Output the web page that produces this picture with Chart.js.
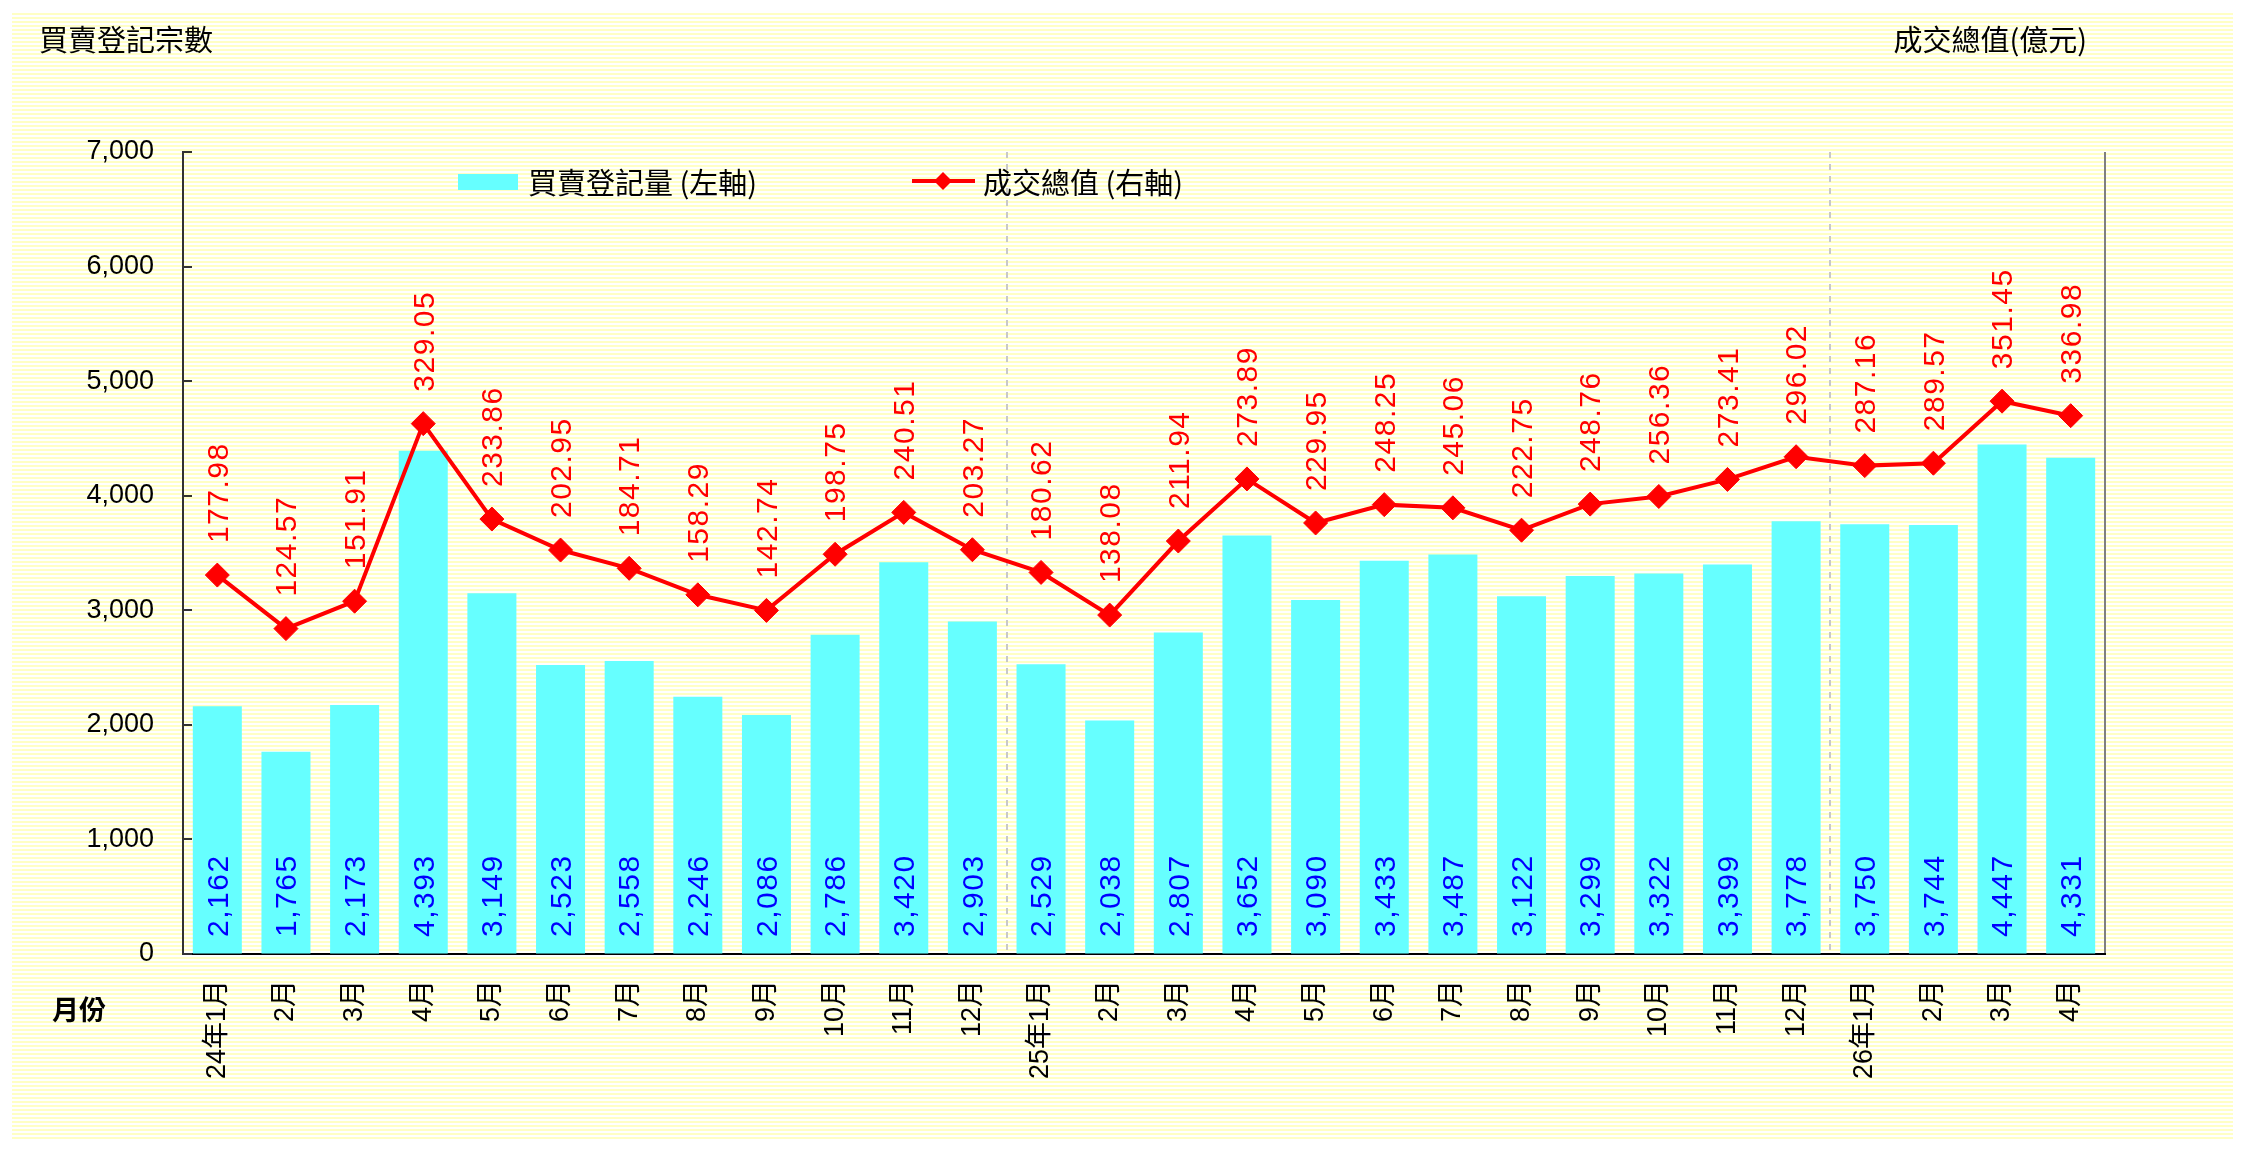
<!DOCTYPE html>
<html lang="zh-Hant">
<head>
<meta charset="utf-8">
<title>買賣登記宗數及成交總值</title>
<script src="https://cdn.jsdelivr.net/npm/chart.js@4.4.1/dist/chart.umd.min.js"></script>
<style>
    html, body { margin: 0; padding: 0; background: #fff; }
    #wrap { width: 2242px; height: 1153px; }
</style>
</head>
<body>
<div id="wrap"><canvas id="deals" width="2242" height="1153"></canvas></div>
<script>
// months, 24年1月 -> 26年4月
const months = [
    '24年1月', '2月', '3月', '4月', '5月', '6月', '7月', '8月', '9月', '10月', '11月', '12月',
    '25年1月', '2月', '3月', '4月', '5月', '6月', '7月', '8月', '9月', '10月', '11月', '12月',
    '26年1月', '2月', '3月', '4月'
];

// 買賣登記量 (left axis)
const dealCount = [
    2162, 1765, 2173, 4393, 3149, 2523, 2558, 2246, 2086, 2786, 3420, 2903,
    2529, 2038, 2807, 3652, 3090, 3433, 3487, 3122, 3299, 3322, 3399, 3778,
    3750, 3744, 4447, 4331
];

// 成交總值, 億元 (right axis)
const dealValue = [
    177.98, 124.57, 151.91, 329.05, 233.86, 202.95, 184.71, 158.29, 142.74, 198.75, 240.51, 203.27,
    180.62, 138.08, 211.94, 273.89, 229.95, 248.25, 245.06, 222.75, 248.76, 256.36, 273.41, 296.02,
    287.16, 289.57, 351.45, 336.98
];

const countLabel = '買賣登記量 (左軸)';
const valueLabel = '成交總值 (右軸)';

const cyan = '#66FFFF';
const red = '#FF0000';
const cjk = '"Noto Sans CJK TC", sans-serif';
const num = '"Liberation Sans", Arial, "Noto Sans CJK TC", sans-serif';

//! striped paper background + titles + legend
const paper = {
    id: 'paper',
    beforeDraw(chart) {
        const ctx = chart.ctx;
        ctx.save();
        ctx.fillStyle = '#FFFFFF';
        ctx.fillRect(12, 13, 2221, 1125);
        ctx.fillStyle = '#FFFFC4';
        for (let y = 13; y < 1138; y += 4) {
            ctx.fillRect(12, y, 2221, 2);
        }

        ctx.fillStyle = '#000';
        ctx.textBaseline = 'middle';
        ctx.font = '29px ' + cjk;
        ctx.textAlign = 'left';
        ctx.fillText('買賣登記宗數', 39, 40);
        ctx.textAlign = 'right';
        ctx.fillText('成交總值(億元)', 2087, 40);
        ctx.textAlign = 'left';
        ctx.font = 'bold 27px ' + cjk;
        ctx.fillText('月份', 52, 1010);

        // year separators
        const x = chart.scales.x;
        const area = chart.chartArea;
        ctx.strokeStyle = '#C8C8C8';
        ctx.lineWidth = 2;
        ctx.setLineDash([6, 6]);
        months.forEach((m, i) => {
            if (i === 0 || m.indexOf('年') < 0) return;
            const px = Math.round((x.getPixelForValue(i - 1) + x.getPixelForValue(i)) / 2);
            ctx.beginPath();
            ctx.moveTo(px, area.top);
            ctx.lineTo(px, area.bottom);
            ctx.stroke();
        });
        ctx.setLineDash([]);

        // right frame line
        ctx.strokeStyle = '#808080';
        ctx.beginPath();
        ctx.moveTo(area.right, area.top);
        ctx.lineTo(area.right, area.bottom);
        ctx.stroke();

        // legend
        ctx.fillStyle = cyan;
        ctx.fillRect(458, 174, 60, 16);
        ctx.fillStyle = '#000';
        ctx.font = '29px ' + cjk;
        ctx.fillText(countLabel, 528, 183);

        ctx.strokeStyle = red;
        ctx.lineWidth = 4;
        ctx.beginPath();
        ctx.moveTo(912, 181);
        ctx.lineTo(975, 181);
        ctx.stroke();
        ctx.fillStyle = red;
        ctx.beginPath();
        ctx.moveTo(934, 181);
        ctx.lineTo(943, 172);
        ctx.lineTo(952, 181);
        ctx.lineTo(943, 190);
        ctx.closePath();
        ctx.fill();
        ctx.fillStyle = '#000';
        ctx.fillText(valueLabel, 983, 183);
        ctx.restore();
    }
};

//! inward ticks on the left axis + value labels
const marks = {
    id: 'marks',
    afterDatasetsDraw(chart) {
        const ctx = chart.ctx;
        const y = chart.scales.y;
        const area = chart.chartArea;
        ctx.save();
        ctx.strokeStyle = '#333';
        ctx.lineWidth = 2;
        y.ticks.forEach((t, i) => {
            const py = Math.round(y.getPixelForTick(i));
            ctx.beginPath();
            ctx.moveTo(area.left, py);
            ctx.lineTo(area.left + 9, py);
            ctx.stroke();
        });

        ctx.letterSpacing = '1.5px';
        ctx.font = '30px ' + num;
        ctx.textAlign = 'left';
        ctx.textBaseline = 'middle';

        const base = y.getPixelForValue(0);
        ctx.fillStyle = '#0000FF';
        chart.getDatasetMeta(0).data.forEach((bar, i) => {
            ctx.save();
            ctx.translate(bar.x + 2, base - 17);
            ctx.rotate(-Math.PI / 2);
            ctx.fillText(dealCount[i].toLocaleString('en-US'), 0, 0);
            ctx.restore();
        });

        ctx.fillStyle = red;
        chart.getDatasetMeta(1).data.forEach((pt, i) => {
            ctx.save();
            ctx.translate(pt.x + 2, pt.y - 32);
            ctx.rotate(-Math.PI / 2);
            ctx.fillText(dealValue[i].toFixed(2), 0, 0);
            ctx.restore();
        });
        ctx.restore();
    }
};

const deals = document.getElementById('deals').getContext('2d');

new Chart(deals, {
    type: 'bar',
    data: {
        labels: months,
        datasets: [
            {
                type: 'bar',
                label: countLabel,
                data: dealCount,
                yAxisID: 'y',
                backgroundColor: cyan,
                borderWidth: 0,
                barPercentage: 0.714,
                categoryPercentage: 1,
                order: 1,
            },
            {
                type: 'line',
                label: valueLabel,
                data: dealValue,
                yAxisID: 'y1',
                borderColor: red,
                borderWidth: 4,
                pointStyle: 'rectRot',
                pointRadius: 12,
                pointBackgroundColor: red,
                pointBorderColor: red,
                pointBorderWidth: 1,
                tension: 0,
                order: 0,
            }
        ]
    },
    options: {
        responsive: false,
        animation: false,
        layout: {
            padding: { top: 152, right: 137, left: 0, bottom: 0 }
        },
        plugins: {
            legend: { display: false },
            tooltip: { enabled: false },
        },
        scales: {
            x: {
                grid: { display: true, drawOnChartArea: false, drawTicks: false },
                border: { display: true, color: '#000', width: 2 },
                ticks: {
                    autoSkip: false,
                    minRotation: 90,
                    maxRotation: 90,
                    padding: 26,
                    color: '#000',
                    font: { family: num, size: 27 },
                },
                afterFit: (s) => { s.height = 199; },
            },
            y: {
                position: 'left',
                min: 0,
                max: 7000,
                grid: { display: true, drawOnChartArea: false, drawTicks: false },
                border: { display: true, color: '#333', width: 2 },
                ticks: {
                    stepSize: 1000,
                    padding: 29,
                    color: '#000',
                    font: { family: num, size: 27 },
                    callback: (v) => v.toLocaleString('en-US'),
                },
                afterFit: (s) => { s.width = 183; },
            },
            y1: {
                position: 'right',
                min: -200,
                max: 600,
                display: false,
            }
        }
    },
    plugins: [paper, marks]
});
</script>
</body>
</html>
